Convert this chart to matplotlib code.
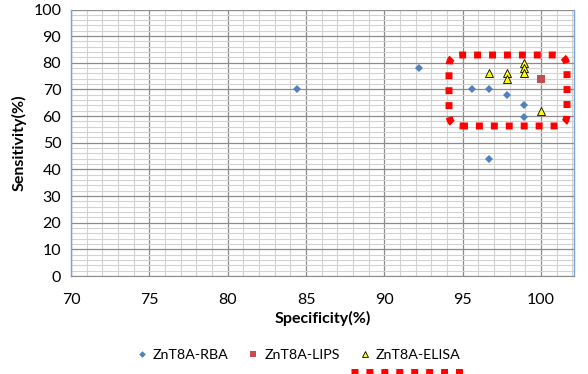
"""ZnT8A assays: sensitivity against specificity."""

import matplotlib

matplotlib.use("Agg")
import matplotlib.pyplot as plt
from matplotlib.lines import Line2D
from matplotlib.patches import FancyBboxPatch
from matplotlib.ticker import MultipleLocator

# specificity (%) / sensitivity (%) per assay
rba_spec = [84.4, 92.2, 95.6, 96.7, 97.8, 98.9, 98.9, 96.7]
rba_sens = [70, 78, 70, 70, 68, 64, 59.5, 44]
lips_spec = [100.0]
lips_sens = [74]
elisa_spec = [96.7, 97.8, 97.8, 98.9, 98.9, 98.9, 100.0]
elisa_sens = [76, 76, 74, 80, 78, 76, 62]

series_labels = ["ZnT8A-RBA", "ZnT8A-LIPS", "ZnT8A-ELISA"]
x_ticks = [70, 75, 80, 85, 90, 95, 100]
y_ticks = list(range(0, 101, 10))

plt.rcParams["font.family"] = ["Lato", "DejaVu Sans"]
FONT_SIZE = 11.5

fig = plt.figure(figsize=(5.88, 3.74), dpi=100)
ax = fig.add_axes([71 / 588, 1 - 276 / 374, 503 / 588, 266.5 / 374])

ax.set_xlim(70, 102.1)
ax.set_ylim(0, 100)
ax.set_xticks(x_ticks)
ax.set_yticks(y_ticks)
ax.xaxis.set_minor_locator(MultipleLocator(1))
ax.yaxis.set_minor_locator(MultipleLocator(2))
ax.grid(which="major", color="#8c8c8c", linewidth=0.9)
ax.grid(which="minor", color="#d2d2d2", linewidth=0.8)
ax.set_axisbelow(True)
ax.tick_params(which="both", length=0, labelsize=FONT_SIZE, colors="black")
ax.tick_params(axis="x", pad=12)
ax.tick_params(axis="y", pad=7)

for side in ("left", "right"):
    ax.spines[side].set_color("#7aa3d6")
    ax.spines[side].set_linewidth(1.0)
ax.spines["bottom"].set_color("#8c8c8c")
ax.spines["top"].set_visible(False)

ax.plot(rba_spec, rba_sens, "D", color="#4f81bd", markersize=4.2,
        markeredgewidth=0, label=series_labels[0])
ax.plot(lips_spec, lips_sens, "s", color="#c0504d", markersize=5.5,
        markeredgewidth=0, label=series_labels[1])
ax.plot(elisa_spec, elisa_sens, "^", color="#ffff00", markeredgecolor="black",
        markeredgewidth=0.6, markersize=6, label=series_labels[2])

ax.set_xlabel("Specificity(%)", fontsize=FONT_SIZE, fontweight="bold", labelpad=3)
ax.set_ylabel("Sensitivity(%)", fontsize=FONT_SIZE, fontweight="bold", labelpad=5)

fig.legend(loc="center", bbox_to_anchor=(299 / 588, 1 - 355 / 374), ncol=3,
           frameon=False, fontsize=10.3, handlelength=0.6, handletextpad=0.47,
           columnspacing=1.45, markerscale=0.8)

# red dashed highlight around the high-specificity cluster
highlight = FancyBboxPatch((4.49, 2.48), 1.18, 0.71,
                           boxstyle="round,pad=0,rounding_size=0.12",
                           transform=fig.dpi_scale_trans, fill=False,
                           edgecolor="#ff0000", linewidth=5,
                           linestyle=(0, (1, 1.15)), clip_on=False)
fig.add_artist(highlight)
fig.add_artist(Line2D([3.51, 4.67], [0.02, 0.02], transform=fig.dpi_scale_trans,
                      color="#ff0000", linewidth=5, linestyle=(0, (1, 1.15)),
                      solid_capstyle="butt", dash_capstyle="butt"))

fig.savefig("out.png", dpi=100)
